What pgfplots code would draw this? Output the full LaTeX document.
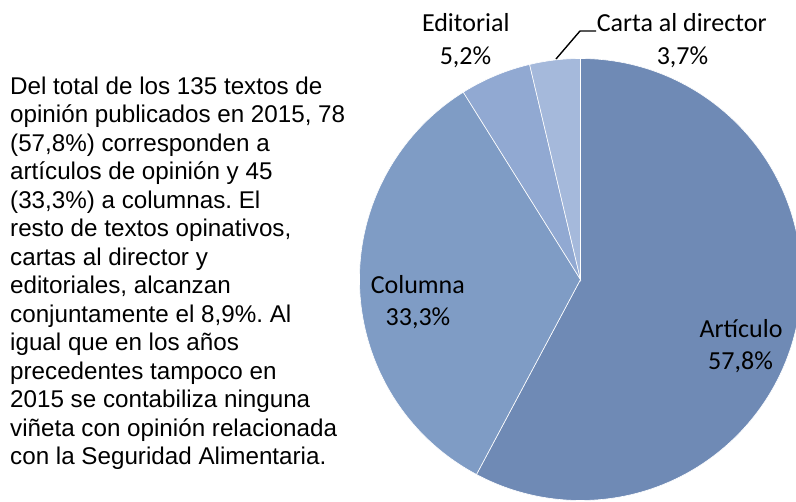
\documentclass[border=0pt]{standalone}
\usepackage{pgfplots}
\pgfplotsset{compat=1.18}
\usepackage{fontspec}
\setmainfont{Liberation Sans}
\newfontfamily\carlito{Carlito}
\definecolor{colA}{HTML}{6F8AB5}
\definecolor{colB}{HTML}{7F9CC5}
\definecolor{colC}{HTML}{91A9D2}
\definecolor{colD}{HTML}{A5B9DB}
\frenchspacing
\begin{document}
\begin{tikzpicture}
% data: Articulo, Columna, Editorial, Carta al director (percent)
\def\va{57.8}\def\vb{33.3}\def\vc{5.2}\def\vd{3.7}
\pgfmathsetmacro\aA{90-3.6*\va}
\pgfmathsetmacro\aB{\aA-3.6*\vb}
\pgfmathsetmacro\aC{\aB-3.6*\vc}
\pgfmathsetmacro\aD{\aC-3.6*\vd}
\def\R{221bp}
\begin{axis}[name=ax, x=1bp, y=1bp, xmin=0, xmax=796, ymin=0, ymax=502, hide axis]
\fill[colA, draw=white, line width=0.6bp] (axis cs:580.5,222.5) -- ++(90:\R) arc[start angle=90, end angle=\aA, radius=\R] -- cycle;
\fill[colB, draw=white, line width=0.6bp] (axis cs:580.5,222.5) -- ++(\aA:\R) arc[start angle=\aA, end angle=\aB, radius=\R] -- cycle;
\fill[colC, draw=white, line width=0.6bp] (axis cs:580.5,222.5) -- ++(\aB:\R) arc[start angle=\aB, end angle=\aC, radius=\R] -- cycle;
\fill[colD, draw=white, line width=0.6bp] (axis cs:580.5,222.5) -- ++(\aC:\R) arc[start angle=\aC, end angle=\aD, radius=\R] -- cycle;
% leader line
\draw[black, line width=1.4bp] (axis cs:596,471) -- (axis cs:580,471) -- (axis cs:556,443);
% pie labels
\begin{scope}[every node/.style={inner sep=0pt, anchor=base, font=\carlito\fontsize{26bp}{32bp}\selectfont}]
\node at (axis cs:465.8,470.3) {Editorial};
\node at (axis cs:465.5,437) {5,2\%};
\node at (axis cs:681.7,470.3) {Carta al director};
\node at (axis cs:682.5,437) {3,7\%};
\node at (axis cs:417.8,208) {Columna};
\node at (axis cs:418,176) {33,3\%};
\node at (axis cs:741,164.7) {Artículo};
\node at (axis cs:740.5,132.7) {57,8\%};
\end{scope}
% left text
\begin{scope}[every node/.style={inner sep=0pt, anchor=base west, font=\fontsize{24.2bp}{29bp}\selectfont}]
\node at (axis cs:10,407.7) {Del total de los 135 textos de};
\node at (axis cs:10,379.2) {opinión publicados en 2015, 78};
\node at (axis cs:10,350.7) {(57,8\%) corresponden a};
\node at (axis cs:10,322.1) {artículos de opinión y 45};
\node at (axis cs:10,293.6) {(33,3\%) a columnas. El};
\node at (axis cs:10,265.1) {resto de textos opinativos,};
\node at (axis cs:10,236.6) {cartas al director y};
\node at (axis cs:10,208.1) {editoriales, alcanzan};
\node at (axis cs:10,179.5) {conjuntamente el 8,9\%. Al};
\node at (axis cs:10,151.0) {igual que en los años};
\node at (axis cs:10,122.5) {precedentes tampoco en};
\node at (axis cs:10,94.0) {2015 se contabiliza ninguna};
\node at (axis cs:10,65.5) {viñeta con opinión relacionada};
\node at (axis cs:10,37.0) {con la Seguridad Alimentaria.};
\end{scope}
\end{axis}
\pgfresetboundingbox
\path (ax.south west) rectangle (ax.north east);
\end{tikzpicture}
\end{document}
